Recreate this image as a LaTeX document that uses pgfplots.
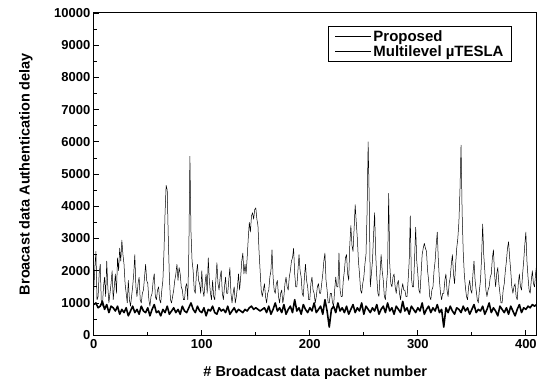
\documentclass[border=0pt]{standalone}
\usepackage{pgfplots}
\usepackage{pgfplotstable}
\pgfplotsset{compat=1.18}
\usepackage{fontspec}
\setmainfont{Liberation Sans}
\pgfplotstableread{
y
950
1000
850
900
1050
800
950
700
900
850
750
900
650
800
700
850
600
750
900
700
800
650
900
750
700
850
600
800
950
700
750
600
800
700
900
650
750
850
700
800
650
900
750
700
850
1000
800
700
900
750
700
850
600
800
750
900
700
650
850
750
800
700
900
650
750
850
700
800
750
700
800
750
850
900
800
850
800
750
800
850
700
900
650
800
1000
750
850
700
950
650
800
900
700
1100
750
850
650
950
800
700
850
750
1000
700
800
900
650
1100
750
250
800
900
700
1000
750
850
700
900
650
800
950
700
850
750
1000
650
900
800
700
850
750
950
650
800
900
700
1000
750
850
650
900
800
700
1050
750
850
650
900
800
700
850
750
1000
650
800
900
700
850
750
950
700
800
250
850
700
900
750
650
850
800
700
900
750
850
650
800
950
700
800
750
900
650
800
1000
700
850
750
600
900
800
700
850
650
900
750
600
800
950
700
850
800
900
850
950
900
950
}\proposed
\pgfplotstableread{
y
1400
2100
2600
1100
1200
1900
2200
1000
900
1500
1800
1200
2300
1500
1000
1300
1600
2000
1100
1500
1900
1300
2400
2000
2700
2300
2950
2500
2200
1600
1300
1000
1700
1100
900
1200
1500
1900
2500
1500
1200
1600
1800
1100
1000
1300
1400
1800
2200
1700
1600
1100
900
1200
1300
1700
1900
1200
1100
1400
1500
1100
1000
1400
1700
2600
3800
4650
4500
3000
1800
1100
1000
1200
1400
1700
1900
2200
1700
2100
1900
1500
1400
1100
1100
1500
1600
1100
2600
5550
3200
2300
2000
1400
1300
1900
2200
1700
1600
1300
2000
1400
1200
1600
1900
1300
2400
1700
1300
1100
1700
1200
1100
1700
2250
1600
1400
1800
2000
1300
1100
1500
1800
1300
1300
1700
2100
1300
1000
1300
1500
1000
1200
1500
1900
1400
1800
2300
2550
1900
2200
1900
2400
3000
3500
3200
3700
3800
3600
3900
3950
3600
3400
2600
2000
1400
1200
1400
1600
1200
1000
1300
1400
1800
2000
2650
1800
1400
1300
1600
1700
1200
1000
1300
1400
1000
1200
1600
1800
1500
1400
1800
2000
2300
2400
2700
1900
1500
1500
2000
2500
2000
1800
1300
1200
1800
2200
1700
1500
1100
1100
1600
1800
1400
1300
1000
1200
1500
1600
1300
1300
1600
1900
2300
2550
1700
1400
1000
1000
1300
1300
1000
900
1400
1800
1500
1500
2550
1400
1200
1200
1700
2000
2400
2500
1900
1700
2800
3400
2800
2600
3300
4050
3500
3000
2300
1900
1400
1300
1600
1800
2200
2500
3800
6000
4200
1500
1900
2300
3100
3800
2500
1800
1300
1200
1900
2500
2000
1700
1200
1100
1600
2000
4400
2200
1600
1500
1800
1900
1500
1300
1600
1700
1300
1100
1400
1600
1400
1400
1200
1200
1700
2300
3700
1800
1500
1500
2400
3350
2300
1900
1400
1300
1900
2500
2700
2850
2700
2600
2000
1700
1200
1100
1400
1500
2000
2300
2800
3200
2300
1700
1300
1100
1300
1300
1700
1900
1400
1200
1600
1800
2200
2500
1900
1600
2200
2700
3000
3500
4500
5900
3800
2600
1900
1500
1200
1100
1500
1700
1400
1300
1900
2300
1700
1400
1100
1000
1400
1700
2400
3450
2500
2000
1400
1200
1400
1500
1800
1900
2400
2650
1900
1500
1900
2100
1600
1300
1000
1000
1400
1600
2000
2300
2700
2900
2400
2000
1500
1300
1500
1600
1200
1100
1600
1900
1500
1400
1900
2300
2800
3200
2300
1800
1400
1300
1700
2000
1600
1500
1900
2200
}\multilevel
\begin{document}
\begin{tikzpicture}
\begin{axis}[name=ax,
  scale only axis, width=444pt, height=323pt,
  xmin=0, xmax=410, ymin=0, ymax=10000,
  xtick={0,100,200,300,400}, minor xtick={50,150,250,350},
  ytick={0,1000,...,10000}, minor ytick={500,1500,...,9500},
  tick align=inside, major tick length=5pt, minor tick length=3pt,
  xtick pos=bottom, ytick pos=left,
  scaled ticks=false,
  /pgf/number format/assume math mode=true,
  /pgf/number format/1000 sep={},
  tick label style={font=\fontsize{13}{15}\selectfont\bfseries},
  xticklabel style={yshift=-1pt},
  xlabel={\# Broadcast data packet number},
  ylabel={Broacast data Authentication delay},
  xlabel style={font=\fontsize{14.5}{16}\selectfont\bfseries, at={(axis description cs:0.5,-0.1176)}, anchor=center},
  ylabel style={font=\fontsize{14.5}{16}\selectfont\bfseries, at={(axis description cs:-0.153,0.5)}, anchor=center, rotate=0},
  axis line style={line width=1pt},
  every tick/.style={black, line width=0.8pt},
  legend style={at={(axis description cs:0.944,0.96)}, anchor=north east, font=\fontsize{15}{17}\selectfont\bfseries, draw=black, line width=0.8pt, row sep=-1pt, inner xsep=6pt, inner ysep=2pt},
  legend cell align=left,
  legend image code/.code={\draw[black, line width=0.9pt] (0pt,0pt) -- (36pt,0pt);},
]
\addplot[black, line width=1.6pt, line join=round] table[x expr=2*\coordindex, y=y] {\proposed};
\addlegendentry{Proposed}
\addplot[black, line width=0.5pt, line join=round] table[x expr=\coordindex, y=y] {\multilevel};
\addlegendentry{Multilevel \textmu TESLA}
\end{axis}
\path ([xshift=-94pt,yshift=-46pt]ax.south west) rectangle ([xshift=2pt,yshift=13pt]ax.north east);
\end{tikzpicture}
\end{document}
